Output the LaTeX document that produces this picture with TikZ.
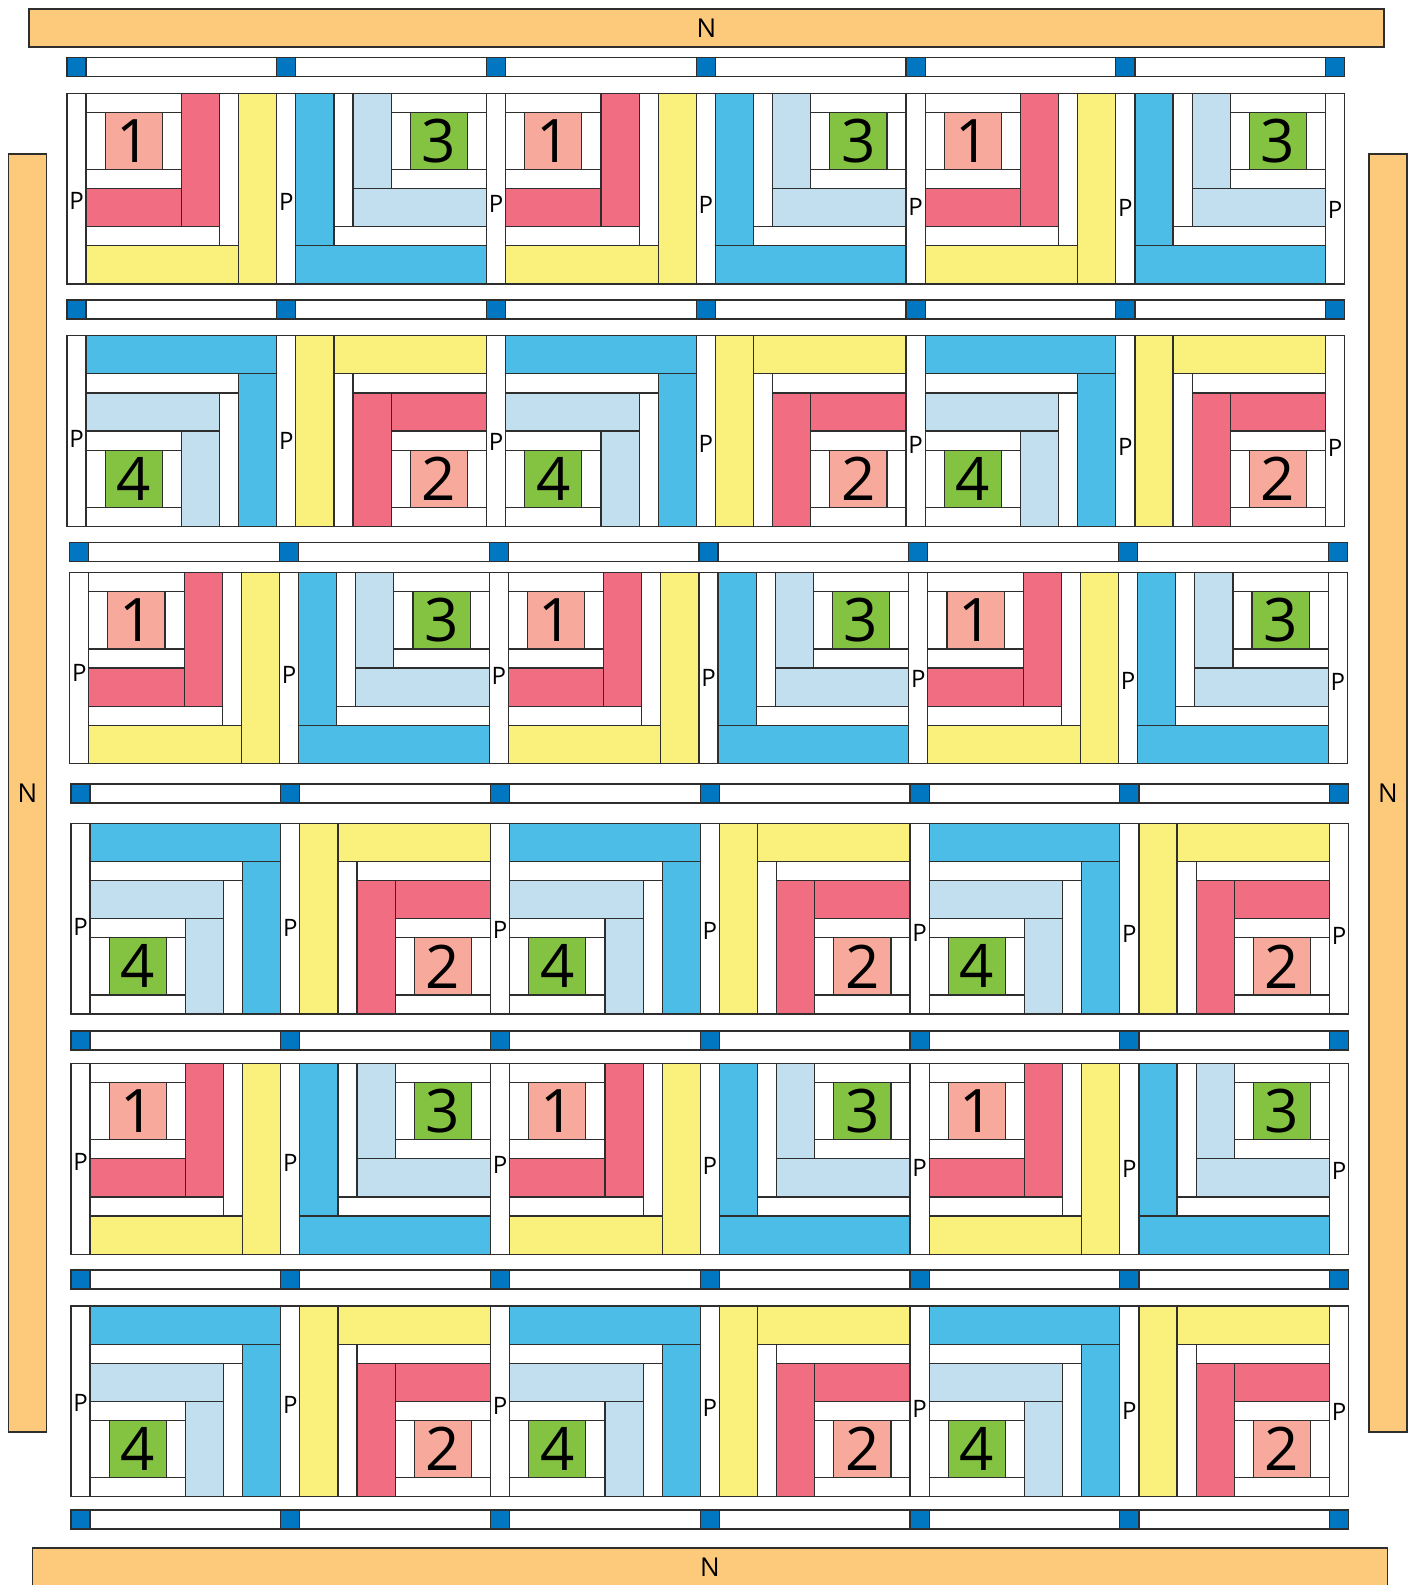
\documentclass[tikz,border=0pt]{standalone}
\usepackage{fontspec}
\setmainfont{Open Sans}
\definecolor{nband}{HTML}{FDC97B}
\definecolor{corner}{HTML}{0077C0}
\definecolor{salmon}{HTML}{F7A99B}
\definecolor{rose}{HTML}{F16D82}
\definecolor{butter}{HTML}{FAF07C}
\definecolor{leaf}{HTML}{84C341}
\definecolor{sky}{HTML}{C2DFEF}
\definecolor{ocean}{HTML}{4BBDE7}
\definecolor{seam}{HTML}{2E2E2E}
\newcommand{\qu}{19.07}
\tikzset{
  patch/.style={draw=seam,line width=1.2pt},
  band/.style={draw=seam,line width=1.2pt,fill=nband,inner sep=0pt,font=\fontsize{26}{26}\selectfont},
  plab/.style={font=\fontsize{24}{24}\selectfont,inner sep=0pt},
  numlab/.style={font=\fontsize{60}{60}\selectfont,inner sep=0pt}
}
% one log-cabin block: x, y, turn, core, inner L, outer L, number, name
\newcommand{\logblock}[8]{%
  \begin{scope}[shift={({#1},{#2})},x=\qu pt,y=-\qu pt,rotate around={#3:(5,5)}]
    \begin{scope}[rotate around={-#3:(2.5,2.5)}]
      \draw[patch,fill=#4] (1,1) rectangle (4,4);
      \draw[patch,fill=white] (0,0) rectangle (5,1); \draw[patch,fill=white] (0,4) rectangle (5,5);
      \draw[patch,fill=white] (0,1) rectangle (1,4); \draw[patch,fill=white] (4,1) rectangle (5,4);
    \end{scope}
    \draw[patch,fill=#5] (0,5) rectangle (5,7); \draw[patch,fill=#5] (5,0) rectangle (7,7);
    \draw[patch,fill=white] (0,7) rectangle (7,8); \draw[patch,fill=white] (7,0) rectangle (8,8);
    \draw[patch,fill=#6] (0,8) rectangle (8,10); \draw[patch,fill=#6] (8,0) rectangle (10,10);
    \node[numlab] (#8) at (2.5,2.5) {#7};
  \end{scope}}

\begin{document}
\begin{tikzpicture}[x=1pt,y=-1pt]
  \useasboundingbox (0,0) rectangle (1415,1585);
  % borders
  \node[band,minimum width=1355pt,minimum height=38pt] (ntop) at (706.5,28) {N};
  \node[band,minimum width=1355pt,minimum height=38pt] (nbottom) at (710,1567) {N};
  \node[band,minimum width=38.4pt,minimum height=1278pt] (nleft) at (27.5,793) {N};
  \node[band,minimum width=38pt,minimum height=1278pt] (nright) at (1388,793) {N};
  % sashing
  \foreach \s/\sy/\sx in {1/57.3/67,2/300/67,3/542.7/69.7,4/784/71,5/1031/71,6/1270/71,7/1510/71}{
    \foreach \i in {0,...,6} \draw[patch,fill=corner] ({\sx+\i*11*\qu},\sy) rectangle ++(\qu,\qu);
    \foreach \i in {0,...,5} \draw[patch,fill=white] ({\sx+\qu+\i*11*\qu},\sy) rectangle ++({10*\qu},\qu);
  }
  % P strips
  \foreach \r/\ry/\rx/\pd in {1/93.3/67/12,2/335.7/67/8,3/572.7/69.7/5,4/823.3/71/8,5/1063.4/71/3,6/1306/71/2}{
    \foreach \i in {0,...,6}{
      \draw[patch,fill=white] ({\rx+\i*11*\qu},\ry) rectangle ++(\qu,{10*\qu});
      \node[plab] (p-\r-\i) at ({\rx+\i*11*\qu+\qu/2},{\ry+5*\qu+\pd+1.5*\i}) {P};
    }
  }
  % blocks
  \foreach \r/\ry/\rx in {1/93.3/67,3/572.7/69.7,5/1063.4/71}
    \foreach \k in {0,2,4}
      \foreach \j/\ang/\core/\inner/\outer/\num in {0/0/salmon/rose/butter/1,1/-90/leaf/sky/ocean/3}
        {\logblock{\rx+\qu+(\k+\j)*11*\qu}{\ry}{\ang}{\core}{\inner}{\outer}{\num}{num-\r-\k-\j}}
  \foreach \r/\ry/\rx in {2/335.7/67,4/823.3/71,6/1306/71}
    \foreach \k in {0,2,4}
      \foreach \j/\ang/\core/\inner/\outer/\num in {0/90/leaf/sky/ocean/4,1/180/salmon/rose/butter/2}
        {\logblock{\rx+\qu+(\k+\j)*11*\qu}{\ry}{\ang}{\core}{\inner}{\outer}{\num}{num-\r-\k-\j}}
\end{tikzpicture}
\end{document}
